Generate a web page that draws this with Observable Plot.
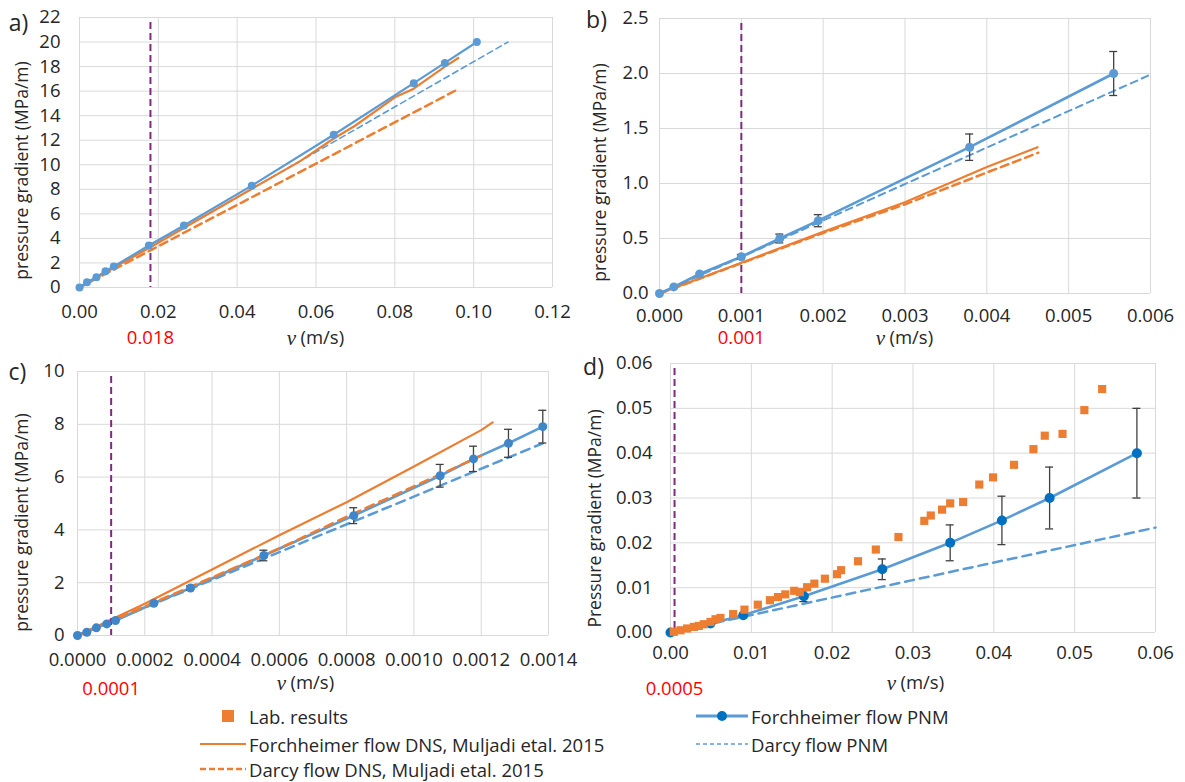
<!DOCTYPE html>
<html>
<head>
<meta charset="utf-8">
<script src="https://cdn.jsdelivr.net/npm/d3@7"></script>
<script src="https://cdn.jsdelivr.net/npm/@observablehq/plot@0.6"></script>
<style>
  body { margin: 0; background: #fff; }
  #fig { position: relative; width: 1185px; height: 782px; background: #fff; font-family: "Open Sans", sans-serif; color: #262626; overflow: hidden; }
  .panel { position: absolute; }
  .leg { position: absolute; display: flex; align-items: center; font-size: 18.5px; white-space: nowrap; }
  .leg svg { flex: none; margin-right: 3px; }
</style>
</head>
<body>
<div id="fig"></div>
<script>
// ---------- a) ----------
const aXTicks = [0, 0.02, 0.04, 0.06, 0.08, 0.10, 0.12];
const aYTicks = [0, 2, 4, 6, 8, 10, 12, 14, 16, 18, 20, 22];
const aForchPNM = [[0,0],[0.0019,0.43],[0.0043,0.84],[0.0066,1.33],[0.0087,1.71],[0.0176,3.42],[0.0265,5.05],[0.0437,8.3],[0.0645,12.45],[0.0848,16.65],[0.0927,18.3],[0.1008,20.0]];
const aDarcyPNM = [[0,0],[0.1087,20.0]];
const aForchDNS = [[0,0],[0.01,1.85],[0.02,3.65],[0.03,5.5],[0.04,7.35],[0.05,9.2],[0.056,10.3],[0.0643,12.1],[0.07,13.2],[0.08,15.5],[0.0848,16.2],[0.0927,18.0],[0.0961,18.7]];
const aDarcyDNS = [[0,0],[0.0954,16.05]];
const aThreshold = 0.018;

// ---------- b) ----------
const bXTicks = [0, 0.001, 0.002, 0.003, 0.004, 0.005, 0.006];
const bYTicks = [0, 0.5, 1.0, 1.5, 2.0, 2.5];
const bForchPNM = [[0,0],[0.000175,0.06],[0.00049,0.177],[0.001,0.334],[0.00147,0.50],[0.00194,0.662],[0.00379,1.33],[0.00555,2.0]];
const bForchPNMErr = [0, 0, 0, 0.02, 0.04, 0.055, 0.12, 0.2];
const bDarcyPNM = [[0,0],[0.006,1.99]];
const bForchDNS = [[0,0],[0.001,0.28],[0.002,0.56],[0.003,0.83],[0.004,1.15],[0.00462,1.33]];
const bDarcyDNS = [[0,0],[0.002,0.55],[0.003,0.81],[0.004,1.1],[0.00463,1.28]];
const bThreshold = 0.001;

// ---------- c) ----------
const cXTicks = [0, 0.0002, 0.0004, 0.0006, 0.0008, 0.0010, 0.0012, 0.0014];
const cYTicks = [0, 2, 4, 6, 8, 10];
const cForchPNM = [[0,0],[0.0000276,0.125],[0.000056,0.29],[0.000087,0.44],[0.000113,0.57],[0.000227,1.22],[0.000336,1.80],[0.000554,3.03],[0.000821,4.54],[0.001078,6.05],[0.001177,6.69],[0.001281,7.28],[0.001383,7.91]];
const cForchPNMErr = [0, 0, 0, 0, 0, 0, 0.08, 0.2, 0.3, 0.43, 0.48, 0.53, 0.62];
const cDarcyPNM = [[0,0],[0.001383,7.28]];
const cForchDNS = [[0,0],[0.0002,1.2],[0.0004,2.5],[0.0006,3.8],[0.0008,5.05],[0.001,6.4],[0.0012,7.78],[0.001234,8.07]];
const cDarcyDNS = [[0,0],[0.0004,2.2],[0.0006,3.3],[0.0008,4.5],[0.001,5.65],[0.0012,6.81]];
const cThreshold = 0.0001;

// ---------- d) ----------
const dXTicks = [0, 0.01, 0.02, 0.03, 0.04, 0.05, 0.06];
const dYTicks = [0, 0.01, 0.02, 0.03, 0.04, 0.05, 0.06];
const dForchPNM = [[0,0],[0.00495,0.0020],[0.009,0.00385],[0.0165,0.0081],[0.0262,0.0141],[0.0346,0.0200],[0.041,0.0250],[0.0469,0.030],[0.0577,0.040]];
const dForchPNMErr = [0, 0, 0, 0.0012, 0.0023, 0.004, 0.0054, 0.0069, 0.01];
const dDarcyPNM = [[0,0],[0.06,0.0234]];
const dLab = [[0.00041,0.00015],[0.00124,0.0005],[0.00206,0.0009],[0.00289,0.00125],[0.0035,0.00147],[0.00412,0.00185],[0.00495,0.00237],[0.00557,0.00296],[0.00618,0.00325],[0.00775,0.0041],[0.00915,0.0051],[0.0108,0.0062],[0.0123,0.0072],[0.0133,0.0079],[0.0142,0.0085],[0.0153,0.0093],[0.016,0.009],[0.0169,0.0101],[0.0178,0.0109],[0.0191,0.012],[0.0206,0.013],[0.0211,0.0139],[0.0232,0.0159],[0.0254,0.0185],[0.0282,0.0213],[0.0314,0.0249],[0.0322,0.0261],[0.0336,0.0274],[0.0346,0.0288],[0.0362,0.0291],[0.0382,0.033],[0.0399,0.0346],[0.0425,0.0374],[0.0449,0.0409],[0.0463,0.0439],[0.0485,0.0443],[0.0512,0.0496],[0.0534,0.0543]];
const dThreshold = 0.0005;

const GRID = "#d9d9d9", ORANGE = "#ED7D31", BLUE = "#5B9BD5", PURPLE = "#7E2A80", RED = "#FF0000", INK = "#262626", BAR = "#404040";
const FONT = "Open Sans, sans-serif";
const FS = 18.5;

const X = d => d[0], Y = d => d[1];

// text placed at a position given in the SVG's own pixel space, centred on it
function label(text, px, py, m, opts = {}) {
  return Plot.text([text], {
    frameAnchor: "top-left", textAnchor: "middle", lineAnchor: "middle",
    dx: px - m.left, dy: py - m.top, fontSize: FS, fill: INK, ...opts
  });
}

function panel(c) {
  const m = c.m;
  const marks = [
    Plot.ruleX(c.xTicks, {stroke: GRID, strokeWidth: 1}),
    Plot.ruleY(c.yTicks, {stroke: GRID, strokeWidth: 1}),
    ...c.lines.map(l => Plot.line(l.data, {x: X, y: Y, stroke: l.color, strokeWidth: l.width, strokeDasharray: l.dash, strokeLinejoin: "round"})),
    Plot.ruleX([c.threshold], {x: d => d, stroke: PURPLE, strokeWidth: 2, strokeDasharray: "7,4", insetTop: 5})
  ];
  if (c.points) {
    const errs = c.points.data.map((d, i) => ({v: d[0], p: d[1], e: c.points.err ? c.points.err[i] : 0})).filter(d => d.e > 0);
    marks.push(
      Plot.ruleX(errs, {x: "v", y1: d => d.p - d.e, y2: d => d.p + d.e, stroke: BAR, strokeWidth: 1.3}),
      Plot.ruleY(errs, {y: d => d.p - d.e, x1: "v", x2: "v", insetLeft: -4, insetRight: -4, stroke: BAR, strokeWidth: 1.3}),
      Plot.ruleY(errs, {y: d => d.p + d.e, x1: "v", x2: "v", insetLeft: -4, insetRight: -4, stroke: BAR, strokeWidth: 1.3}),
      Plot.dot(c.points.data, {x: X, y: Y, r: c.points.r, fill: c.points.color, stroke: "none"})
    );
  }
  if (c.squares) {
    marks.push(Plot.dot(c.squares, {x: X, y: Y, symbol: "square", r: 4.6, fill: ORANGE, stroke: "none"}));
  }
  marks.push(
    Plot.text([c.threshold], {x: d => d, frameAnchor: "bottom", textAnchor: "middle", lineAnchor: "middle", dy: c.thrDy, text: () => c.thrLabel, fill: RED, fontSize: FS}),
    label(c.letter, c.letterPos[0], c.letterPos[1], m, {fontSize: 23}),
    label(c.yLabel, c.yLabelPos[0], c.yLabelPos[1], m, {rotate: -90, fontSize: 17.5}),
    label("v", c.unitPos[0], c.unitPos[1], m, {fontFamily: "Liberation Serif, serif", fontStyle: "italic", fontSize: 21}),
    label("(m/s)", c.unitPos[0] + 9, c.unitPos[1], m, {textAnchor: "start"})
  );
  const svg = Plot.plot({
    width: c.width, height: c.height,
    marginLeft: m.left, marginRight: m.right, marginTop: m.top, marginBottom: m.bottom,
    style: {fontFamily: FONT, fontSize: FS + "px", color: INK, background: "#fff", overflow: "visible"},
    x: {domain: c.xDomain, ticks: c.xTicks, tickFormat: d3.format(c.xFmt), tickSize: 0, tickPadding: c.xPad, label: null},
    y: {domain: c.yDomain, ticks: c.yTicks, tickFormat: d3.format(c.yFmt), tickSize: 0, tickPadding: c.yPad, label: null},
    marks
  });
  const wrap = document.createElement("div");
  wrap.className = "panel";
  wrap.style.left = c.left + "px";
  wrap.style.top = c.top + "px";
  wrap.appendChild(svg);
  document.getElementById("fig").appendChild(wrap);
}

const pLabel = "pressure gradient (MPa/m)";

panel({
  left: 0, top: 0, width: 585, height: 352,
  m: {left: 79, right: 33, top: 17, bottom: 65},
  xDomain: [0, 0.12], yDomain: [0, 22], xTicks: aXTicks, yTicks: aYTicks, xFmt: ".2f", yFmt: "d", xPad: 17, yPad: 19,
  lines: [
    {data: aDarcyDNS, color: ORANGE, width: 2.5, dash: "8,5"},
    {data: aDarcyPNM, color: BLUE, width: 1.6, dash: "6,4"},
    {data: aForchDNS, color: ORANGE, width: 2.2},
    {data: aForchPNM, color: BLUE, width: 2.2}
  ],
  points: {data: aForchPNM, color: BLUE, r: 4},
  threshold: aThreshold, thrLabel: "0.018", thrDy: 51,
  letter: "a)", letterPos: [18, 23], yLabel: pLabel, yLabelPos: [22, 170], unitPos: [291, 338]
});

panel({
  left: 585, top: 0, width: 600, height: 352,
  m: {left: 74, right: 35, top: 18, bottom: 59},
  xDomain: [0, 0.006], yDomain: [0, 2.5], xTicks: bXTicks, yTicks: bYTicks, xFmt: ".3f", yFmt: ".1f", xPad: 15, yPad: 11,
  lines: [
    {data: bDarcyDNS, color: ORANGE, width: 2.5, dash: "8,5"},
    {data: bDarcyPNM, color: BLUE, width: 2, dash: "7,5"},
    {data: bForchDNS, color: ORANGE, width: 2.2},
    {data: bForchPNM, color: BLUE, width: 2.6}
  ],
  points: {data: bForchPNM, err: bForchPNMErr, color: BLUE, r: 4.5},
  threshold: bThreshold, thrLabel: "0.001", thrDy: 45,
  letter: "b)", letterPos: [11, 20], yLabel: pLabel, yLabelPos: [15, 172], unitPos: [295, 338]
});

panel({
  left: 0, top: 352, width: 585, height: 348,
  m: {left: 77, right: 37, top: 19, bottom: 65},
  xDomain: [0, 0.0014], yDomain: [0, 10], xTicks: cXTicks, yTicks: cYTicks, xFmt: ".4f", yFmt: "d", xPad: 17, yPad: 13,
  lines: [
    {data: cDarcyPNM, color: BLUE, width: 2.5, dash: "9,6"},
    {data: cForchDNS, color: ORANGE, width: 2.2},
    {data: cForchPNM, color: BLUE, width: 2.6},
    {data: cDarcyDNS, color: ORANGE, width: 2.5, dash: "9,6"}
  ],
  points: {data: cForchPNM, err: cForchPNMErr, color: "#3F86C8", r: 4.5},
  threshold: cThreshold, thrLabel: "0.0001", thrDy: 54,
  letter: "c)", letterPos: [17, 20], yLabel: pLabel, yLabelPos: [22, 170], unitPos: [281, 331]
});

panel({
  left: 585, top: 352, width: 600, height: 348,
  m: {left: 85, right: 30, top: 11, bottom: 68},
  xDomain: [0, 0.06], yDomain: [0, 0.06], xTicks: dXTicks, yTicks: dYTicks, xFmt: ".2f", yFmt: ".2f", xPad: 13, yPad: 18,
  lines: [
    {data: dDarcyPNM, color: BLUE, width: 2.5, dash: "9,6"},
    {data: dForchPNM, color: BLUE, width: 2.6}
  ],
  points: {data: dForchPNM, err: dForchPNMErr, color: "#0070C0", r: 5},
  squares: dLab,
  threshold: dThreshold, thrLabel: "0.0005", thrDy: 57,
  letter: "d)", letterPos: [8, 15], yLabel: "Pressure gradient (MPa/m)", yLabelPos: [10, 166], unitPos: [306, 331]
});

// ---------- legend ----------
const legendItems = [
  {text: "Lab. results", x: 200, y: 716, kind: "square", color: ORANGE},
  {text: "Forchheimer flow DNS, Muljadi etal. 2015", x: 200, y: 744, kind: "line", color: ORANGE},
  {text: "Darcy flow DNS, Muljadi etal. 2015", x: 200, y: 769, kind: "dash", color: ORANGE},
  {text: "Forchheimer flow PNM", x: 696, y: 716, kind: "lineDot", color: BLUE},
  {text: "Darcy flow PNM", x: 696, y: 744, kind: "dash", color: BLUE}
];
const fig = document.getElementById("fig");
for (const it of legendItems) {
  const div = document.createElement("div");
  div.className = "leg";
  div.style.left = it.x + "px";
  div.style.top = (it.y - 12) + "px";
  div.style.height = "24px";
  const w = it.kind === "lineDot" || (it.kind === "dash" && it.color === BLUE) ? 52 : 46;
  let sw = `<svg width="${w}" height="14" viewBox="0 0 ${w} 14">`;
  if (it.kind === "square") sw += `<rect x="${w / 2 - 1}" y="1" width="12" height="12" fill="${it.color}"/>`;
  if (it.kind === "line") sw += `<line x1="0" x2="${w}" y1="7" y2="7" stroke="${it.color}" stroke-width="2"/>`;
  if (it.kind === "dash") sw += `<line x1="0" x2="${w}" y1="7" y2="7" stroke="${it.color}" stroke-width="${it.color === BLUE ? 1.5 : 2.5}" stroke-dasharray="${it.color === BLUE ? "4,3" : "6,3"}"/>`;
  if (it.kind === "lineDot") sw += `<line x1="0" x2="${w}" y1="7" y2="7" stroke="${it.color}" stroke-width="3"/><circle cx="${w / 2}" cy="7" r="5" fill="#0070C0"/>`;
  sw += `</svg>`;
  div.innerHTML = sw + `<span>${it.text}</span>`;
  fig.appendChild(div);
}
</script>
</body>
</html>
